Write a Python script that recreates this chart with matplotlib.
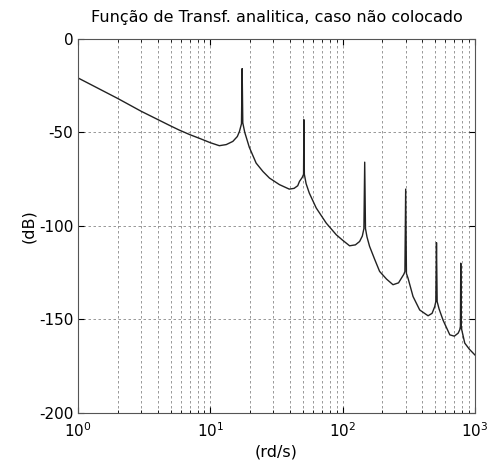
"""Bode (magnitude) da função de transferência analítica, caso não colocado."""

import matplotlib
matplotlib.use("Agg")
import matplotlib.pyplot as plt
from matplotlib.ticker import LogLocator, NullFormatter

plt.rcParams["font.family"] = ["DejaVu Sans"]
plt.rcParams["axes.unicode_minus"] = False

# pontos: frequência (rd/s) e magnitude (dB)
freq = [
    1, 2, 3, 4.9, 5.8, 7, 8.3, 10, 11.7, 13.2, 14.8, 16, 16.6, 17.2, 17.4, 17.6, 18.2,
    19.7, 22.2, 25, 28, 33.3, 39.5, 43, 45.8, 47.2, 49.5, 50.7, 51, 51.4, 53, 56, 63.2,
    75.3, 89.6, 100, 113, 125, 134.5, 141, 145, 147, 149, 153, 160, 175, 190.6, 215,
    240.6, 265, 278.5, 290, 296, 300, 304, 312.5, 341, 383, 443, 475, 497.6, 507,
    513, 519, 537, 575.6, 647, 700, 748, 770, 778, 783, 790, 839, 910, 1000,
]
mag_db = [
    -21, -32, -38.8, -46.3, -48.8, -51.3, -53.3, -55.6, -57.2, -56.6, -54.9, -52.3, -49.6, -45.5, -16, -45, -50,
    -58, -66.5, -71, -74.5, -78, -80.4, -80, -78.6, -76.3, -74.2, -72.5, -43.3, -72.5, -77.5, -82.5, -90.5,
    -98.6, -104.8, -107.7, -110.7, -110.2, -108.4, -105.5, -101.5, -66, -101.5, -106, -111, -118, -124.4, -128.5,
    -131.5, -130.5, -128, -126, -124.5, -80.4, -125.5, -128, -137.8, -145, -148.1, -146.8, -143.2, -140.5,
    -109, -140.5, -144.5, -150.5, -158.3, -159, -157.4, -155.5, -153.8, -120, -154.5, -162.7, -166, -169,
]

x_ticks = [1, 10, 100, 1000]
x_tick_labels = [r"$10^0$", r"$10^1$", r"$10^2$", r"$10^3$"]
y_ticks = [-200, -150, -100, -50, 0]


def main() -> None:
    fig = plt.figure(figsize=(4.88, 4.66), dpi=100)
    ax = fig.add_axes([0.160, 0.114, 0.813, 0.803])

    ax.semilogx(freq, mag_db, color="#222222", linewidth=1.0)

    ax.set_xlim(1, 1000)
    ax.set_ylim(-200, 0)
    ax.set_xticks(x_ticks)
    ax.set_xticklabels(x_tick_labels)
    ax.xaxis.set_minor_locator(LogLocator(base=10, subs=range(2, 10)))
    ax.xaxis.set_minor_formatter(NullFormatter())
    ax.set_yticks(y_ticks)

    ax.grid(True, which="both", axis="x", color="#888888", linestyle=(0, (3, 3)), linewidth=0.6)
    ax.grid(True, which="major", axis="y", color="#888888", linestyle=(0, (3, 3)), linewidth=0.6)

    ax.tick_params(which="both", direction="in", top=True, right=True, labelsize=11)
    ax.tick_params(axis="x", which="major", pad=6)
    ax.tick_params(which="major", length=4)
    ax.tick_params(which="minor", length=2)
    for spine in ax.spines.values():
        spine.set_linewidth(0.8)
        spine.set_color("#555555")

    ax.set_title("Função de Transf. analitica, caso não colocado", fontsize=11.5, pad=12)
    ax.set_xlabel("(rd/s)", fontsize=11.5, labelpad=3)
    ax.set_ylabel("(dB)", fontsize=11.5, labelpad=2)

    fig.savefig("out.png", dpi=100)
    plt.close(fig)


if __name__ == "__main__":
    main()
